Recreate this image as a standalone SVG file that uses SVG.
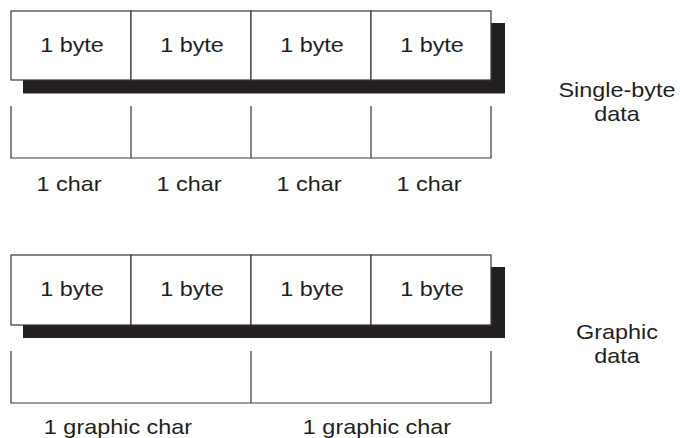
<svg xmlns="http://www.w3.org/2000/svg" width="680" height="438" viewBox="0 0 680 438">
  <style>
    .cell { fill: #ffffff; stroke: #3a3839; stroke-width: 1.2; }
    .shadow { fill: #231f20; }
    .ln { stroke: #3a3839; stroke-width: 1.2; fill: none; }
    .t { font-family: "Liberation Sans", Arial, sans-serif; font-size: 21px; fill: #231f20; text-anchor: middle; }
  </style>
  <rect width="680" height="438" fill="#ffffff"/>

  <!-- Single-byte section -->
  <g id="sb-bytes">
    <rect class="shadow" x="23" y="23" width="482" height="70.5"/>
    <g id="sb-byte1"><rect class="cell" x="11" y="11" width="120" height="69"/><text class="t" x="72" y="52" textLength="63.7" lengthAdjust="spacingAndGlyphs">1 byte</text></g>
    <g id="sb-byte2"><rect class="cell" x="131" y="11" width="120" height="69"/><text class="t" x="192" y="52" textLength="63.7" lengthAdjust="spacingAndGlyphs">1 byte</text></g>
    <g id="sb-byte3"><rect class="cell" x="251" y="11" width="120" height="69"/><text class="t" x="312" y="52" textLength="63.7" lengthAdjust="spacingAndGlyphs">1 byte</text></g>
    <g id="sb-byte4"><rect class="cell" x="371" y="11" width="120" height="69"/><text class="t" x="432" y="52" textLength="63.7" lengthAdjust="spacingAndGlyphs">1 byte</text></g>
  </g>
  <g id="sb-chars">
    <path class="ln" d="M11,106 V158 H491 V106 M131,106 V158 M251,106 V158 M371,106 V158"/>
    <text class="t" x="69" y="191" textLength="65" lengthAdjust="spacingAndGlyphs">1 char</text>
    <text class="t" x="189" y="191" textLength="65" lengthAdjust="spacingAndGlyphs">1 char</text>
    <text class="t" x="309" y="191" textLength="65" lengthAdjust="spacingAndGlyphs">1 char</text>
    <text class="t" x="429" y="191" textLength="65" lengthAdjust="spacingAndGlyphs">1 char</text>
  </g>
  <g id="sb-label">
    <text class="t" x="617" y="97" textLength="117" lengthAdjust="spacingAndGlyphs">Single-byte</text>
    <text class="t" x="617" y="121" textLength="45.5" lengthAdjust="spacingAndGlyphs">data</text>
  </g>

  <!-- Graphic section -->
  <g id="g-bytes">
    <rect class="shadow" x="23" y="267" width="482" height="71"/>
    <g id="g-byte1"><rect class="cell" x="11" y="255" width="120" height="70"/><text class="t" x="72" y="296" textLength="63.7" lengthAdjust="spacingAndGlyphs">1 byte</text></g>
    <g id="g-byte2"><rect class="cell" x="131" y="255" width="120" height="70"/><text class="t" x="192" y="296" textLength="63.7" lengthAdjust="spacingAndGlyphs">1 byte</text></g>
    <g id="g-byte3"><rect class="cell" x="251" y="255" width="120" height="70"/><text class="t" x="312" y="296" textLength="63.7" lengthAdjust="spacingAndGlyphs">1 byte</text></g>
    <g id="g-byte4"><rect class="cell" x="371" y="255" width="120" height="70"/><text class="t" x="432" y="296" textLength="63.7" lengthAdjust="spacingAndGlyphs">1 byte</text></g>
  </g>
  <g id="g-chars">
    <path class="ln" d="M11,351 V403 H491 V351 M251,351 V403"/>
    <text class="t" x="118" y="434" textLength="148.3" lengthAdjust="spacingAndGlyphs">1 graphic char</text>
    <text class="t" x="377" y="434" textLength="148.3" lengthAdjust="spacingAndGlyphs">1 graphic char</text>
  </g>
  <g id="g-label">
    <text class="t" x="617" y="339" textLength="81.9" lengthAdjust="spacingAndGlyphs">Graphic</text>
    <text class="t" x="617" y="363" textLength="45.5" lengthAdjust="spacingAndGlyphs">data</text>
  </g>
</svg>
